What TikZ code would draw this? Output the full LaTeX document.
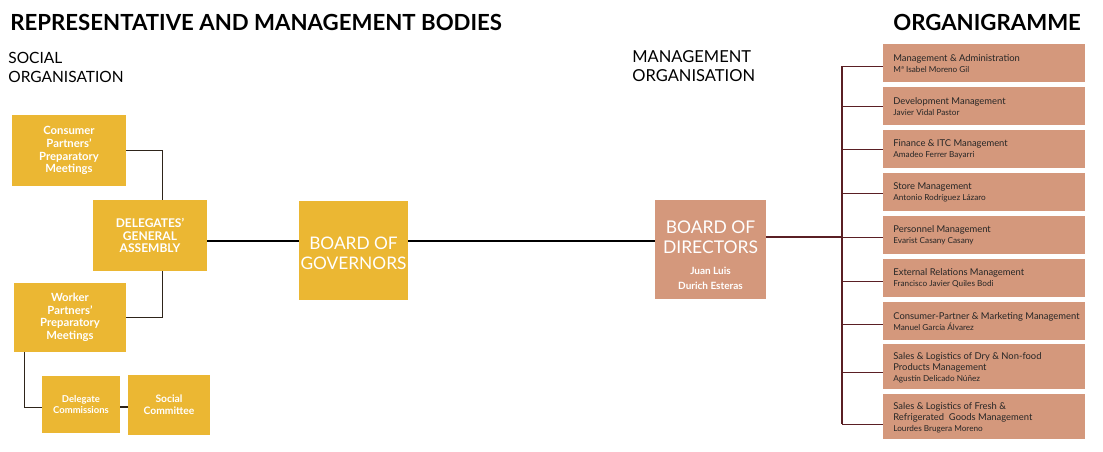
\documentclass[tikz,border=0pt]{standalone}
\usepackage{fontspec}
\setmainfont{Lato}
\usetikzlibrary{positioning}
\definecolor{boardyellow}{HTML}{EBB733}
\definecolor{boardsalmon}{HTML}{D4987C}
\definecolor{linkdark}{HTML}{2E241A}
\definecolor{linkred}{HTML}{5A1F24}
\tikzset{every picture/.style={line width=0.75pt}}
\newcommand{\whoname}[1]{{\fontsize{8.2}{9}\selectfont #1}}

\begin{document}
\begin{tikzpicture}[x=1pt,y=1pt,yscale=-1,
		social/.style={fill=boardyellow,text=white,align=center,inner sep=0pt},
		board/.style={fill=boardsalmon,inner sep=0pt},
		boardtext/.style={text=white,align=center,inner sep=0pt},
		dept/.style={fill=boardsalmon,anchor=north west,minimum width=202pt,minimum height=38pt,inner sep=0pt},
		depttext/.style={text=black!85,anchor=west,align=left,inner sep=0pt,font=\fontsize{9.4}{11.4}\selectfont},
		head/.style={anchor=base west,inner sep=0pt,align=left},
		leftlink/.style={draw=linkdark,line width=1pt},
		rightlink/.style={draw=linkred,line width=1.2pt}]
		\useasboundingbox (0,0) rectangle (1103,451);

		% Text Node
		\node[head,font=\fontsize{22.2}{24}\selectfont\bfseries] (title) at (10,30) {REPRESENTATIVE AND MANAGEMENT BODIES};
		% Text Node
		\node[head,font=\fontsize{22.2}{24}\selectfont\bfseries] (organigramme) at (893,30) {ORGANIGRAMME};
		% Text Node
		\node[head,font=\fontsize{15.5}{19}\selectfont] (socialorg) at (8,82) {SOCIAL\\ORGANISATION};
		% Text Node
		\node[head,font=\fontsize{16.5}{18.5}\selectfont] (managementorg) at (632,81) {MANAGEMENT\\ORGANISATION};

		%Shape: Rectangle
		\node[social,minimum width=114pt,minimum height=71pt,font=\fontsize{11.3}{12.8}\selectfont\bfseries] (consumer) at (69,150.5) {Consumer\\Partners’\\Preparatory\\Meetings};
		%Shape: Rectangle
		\node[social,minimum width=114pt,minimum height=71pt,font=\fontsize{12}{12.7}\selectfont\bfseries] (assembly) at (150,235.5) {DELEGATES’\\GENERAL\\ASSEMBLY};
		%Shape: Rectangle
		\node[social,minimum width=112pt,minimum height=69pt,font=\fontsize{11.3}{12.6}\selectfont\bfseries] (worker) at (70,317.5) {Worker\\Partners’\\Preparatory\\Meetings};
		%Shape: Rectangle
		\node[social,minimum width=78pt,minimum height=57pt,font=\fontsize{9.5}{11.5}\selectfont\bfseries] (commissions) at (81,404.5) {Delegate\\Commissions};
		%Shape: Rectangle
		\node[social,minimum width=82pt,minimum height=60pt,font=\fontsize{10.3}{12}\selectfont\bfseries] (committee) at (169,405) {Social\\Committee};
		%Shape: Rectangle
		\node[board,fill=boardyellow,minimum width=109pt,minimum height=99pt] (governors) at (353.5,250.5) {};
		% Text Node
		\node[boardtext,font=\fontsize{17.3}{20}\selectfont] (governorstext) at ([yshift=3pt]governors.center) {BOARD OF\\GOVERNORS};
		%Shape: Rectangle
		\node[board,minimum width=111pt,minimum height=99pt] (directors) at (710.5,249.5) {};
		% Text Node
		\node[boardtext,font=\fontsize{17.5}{20}\selectfont] (directorstext) at ([yshift=6pt]directors.center) {BOARD OF\\DIRECTORS\\[1pt]{\fontsize{10}{14}\selectfont\bfseries Juan Luis}\\[-5pt]{\fontsize{10}{14}\selectfont\bfseries Durich Esteras}};

		%Shape: Rectangle
		\node[dept] (admin) at (883,44) {};
		\node[depttext] (admintext) at ([xshift=10pt]admin.west) {Management \& Administration\\\whoname{Mª Isabel Moreno Gil}};
		%Shape: Rectangle
		\node[dept] (development) at (883,87) {};
		\node[depttext] (developmenttext) at ([xshift=10pt]development.west) {Development Management\\\whoname{Javier Vidal Pastor}};
		%Shape: Rectangle
		\node[dept] (finance) at (883,130) {};
		\node[depttext] (financetext) at ([xshift=10pt]finance.west) {Finance \& ITC Management\\\whoname{Amadeo Ferrer Bayarri}};
		%Shape: Rectangle
		\node[dept] (store) at (883,173) {};
		\node[depttext] (storetext) at ([xshift=10pt]store.west) {Store Management\\\whoname{Antonio Rodríguez Lázaro}};
		%Shape: Rectangle
		\node[dept] (personnel) at (883,216) {};
		\node[depttext] (personneltext) at ([xshift=10pt]personnel.west) {Personnel Management\\\whoname{Evarist Casany Casany}};
		%Shape: Rectangle
		\node[dept] (external) at (883,259) {};
		\node[depttext] (externaltext) at ([xshift=10pt]external.west) {External Relations Management\\\whoname{Francisco Javier Quiles Bodi}};
		%Shape: Rectangle
		\node[dept] (marketing) at (883,302) {};
		\node[depttext] (marketingtext) at ([xshift=10pt]marketing.west) {Consumer-Partner \& Marketing Management\\\whoname{Manuel García Álvarez}};
		%Shape: Rectangle
		\node[dept,minimum height=45pt] (drygoods) at (883,344) {};
		\node[depttext] (drygoodstext) at ([xshift=10pt,yshift=1pt]drygoods.west) {Sales \& Logistics of Dry \& Non-food\\[-1pt]Products Management\\\whoname{Agustín Delicado Núñez}};
		%Shape: Rectangle
		\node[dept,minimum height=45pt] (freshgoods) at (883,394) {};
		\node[depttext] (freshgoodstext) at ([xshift=10pt,yshift=1pt]freshgoods.west) {Sales \& Logistics of Fresh \&\\[-1pt]Refrigerated\ \ Goods Management\\\whoname{Lourdes Brugera Moreno}};

		% Connectors, social side
		\draw[leftlink] (consumer.east) -| ([xshift=12pt]assembly.north);
		\draw[leftlink] (worker.east) -| ([xshift=12pt]assembly.south);
		\draw[leftlink] ([xshift=-46pt]worker.south) |- ([yshift=2.5pt]commissions.west);
		\draw[draw=linkdark,line width=2.5pt] ([yshift=2.5pt]commissions.east) -- ([yshift=2.5pt]commissions.east -| committee.west);
		\draw[draw=black,line width=2pt] ([yshift=5.5pt]assembly.east) -- ([yshift=5.5pt]assembly.east -| governors.west);
		\draw[draw=black,line width=1.2pt] ([yshift=-9.5pt]governors.east) -- ([yshift=-9.5pt]governors.east -| directors.west);

		% Connectors, management side
		\coordinate (spine) at (842,0);
		\draw[rightlink] ([yshift=-12.5pt]directors.east) -- ([yshift=-12.5pt]directors.east -| spine);
		\draw[rightlink] ([yshift=3pt]admin.west -| spine) -- ([yshift=7.5pt]freshgoods.west -| spine);
		\draw[rightlink] ([yshift=3pt]admin.west -| spine) -- ([yshift=3pt]admin.west);
		\draw[rightlink] ([yshift=0.5pt]development.west -| spine) -- ([yshift=0.5pt]development.west);
		\draw[rightlink] (finance.west -| spine) -- (finance.west);
		\draw[rightlink] ([yshift=1pt]store.west -| spine) -- ([yshift=1pt]store.west);
		\draw[rightlink] ([yshift=2pt]personnel.west -| spine) -- ([yshift=2pt]personnel.west);
		\draw[rightlink] ([yshift=3pt]external.west -| spine) -- ([yshift=3pt]external.west);
		\draw[rightlink] ([yshift=3.5pt]marketing.west -| spine) -- ([yshift=3.5pt]marketing.west);
		\draw[rightlink] ([yshift=5.5pt]drygoods.west -| spine) -- ([yshift=5.5pt]drygoods.west);
		\draw[rightlink] ([yshift=7.5pt]freshgoods.west -| spine) -- ([yshift=7.5pt]freshgoods.west);

		\end{tikzpicture}
\end{document}
